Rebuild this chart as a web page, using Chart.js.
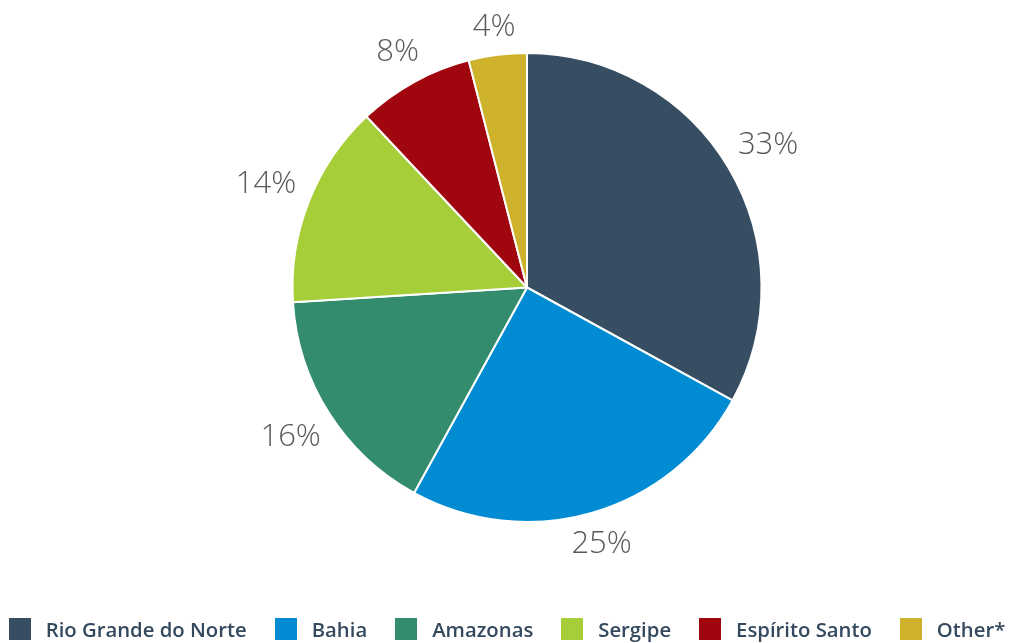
<!DOCTYPE html>
<html>
<head>
<meta charset="utf-8">
<script src="https://cdn.jsdelivr.net/npm/chart.js@4.4.0/dist/chart.umd.min.js"></script>
<style>
  html, body { margin: 0; padding: 0; background: #fff; }
  #wrap { position: relative; width: 1014px; height: 643px; overflow: hidden; }
  #grafico { position: absolute; left: 0; top: 0; }
  #legenda {
    position: absolute; left: 0; right: 0; top: 615px;
    display: flex; justify-content: center; align-items: center;
    font-family: "Open Sans", sans-serif; font-weight: 600; font-size: 20.3px;
    color: #34495e; white-space: nowrap;
  }
  #legenda .item { display: flex; align-items: center; margin: 0 14px; }
  #legenda .caixa { width: 22px; height: 22px; margin-right: 15px; flex: none; }
</style>
</head>
<body>
<div id="wrap">
  <canvas id="grafico" width="1014" height="643"></canvas>
  <div id="legenda"></div>
</div>
<script>
// dados do gráfico
const estados = ['Rio Grande do Norte', 'Bahia', 'Amazonas', 'Sergipe', 'Espírito Santo', 'Other*'];
const percentuais = [33, 25, 16, 14, 8, 4];
const cores = ['#374e62', '#008bd2', '#338c6c', '#a6ce39', '#a0060e', '#cfb22c'];

// rótulos de porcentagem fora da pizza
const rotulosExternos = {
  id: 'rotulosExternos',
  afterDatasetsDraw(chart) {
    const ctx = chart.ctx;
    const meta = chart.getDatasetMeta(0);
    ctx.save();
    ctx.font = '300 31px "Open Sans", sans-serif';
    ctx.fillStyle = '#58595b';
    ctx.textAlign = 'center';
    ctx.textBaseline = 'middle';
    meta.data.forEach((arco, i) => {
      const p = arco.getProps(['x', 'y', 'startAngle', 'endAngle', 'outerRadius'], true);
      const meio = (p.startAngle + p.endAngle) / 2;
      const texto = chart.data.datasets[0].data[i] + '%';
      const w = ctx.measureText(texto).width;
      const h = 22;
      const dist = p.outerRadius + 14 + Math.abs(Math.cos(meio)) * w / 2 + Math.abs(Math.sin(meio)) * h / 2;
      ctx.fillText(texto, p.x + Math.cos(meio) * dist, p.y + Math.sin(meio) * dist);
    });
    ctx.restore();
  }
};

const grafico = new Chart(document.getElementById('grafico'), {
  type: 'pie',
  data: {
    labels: estados,
    datasets: [{
      data: percentuais,
      backgroundColor: cores,
      borderColor: '#ffffff',
      borderWidth: 2
    }]
  },
  options: {
    responsive: false,
    animation: false,
    layout: { padding: { top: 52, bottom: 120, left: 40, right: 0 } },
    plugins: {
      legend: { display: false },
      tooltip: { enabled: false }
    }
  },
  plugins: [rotulosExternos]
});

// legenda em HTML
const legenda = document.getElementById('legenda');
estados.forEach((nome, i) => {
  const item = document.createElement('div');
  item.className = 'item';
  item.innerHTML = `<span class="caixa" style="background:${cores[i]}"></span><span>${nome}</span>`;
  legenda.appendChild(item);
});
</script>
</body>
</html>
